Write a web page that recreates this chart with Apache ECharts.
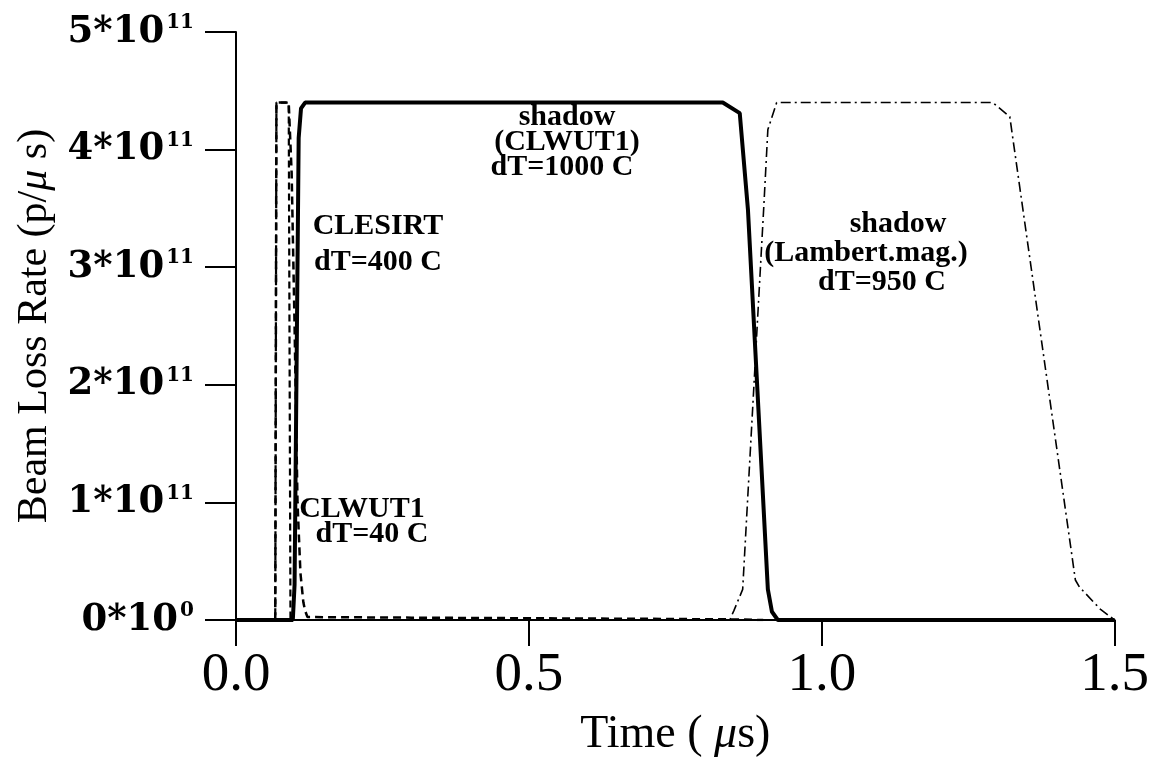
<!DOCTYPE html>
<html><head><meta charset="utf-8">
<script src="https://cdn.jsdelivr.net/npm/echarts@6/dist/echarts.min.js"></script>
<style>html,body{margin:0;padding:0;background:#fff}#c{width:1152px;height:763px}</style>
</head><body><div id="c"></div>
<script>
// time in microseconds, beam loss rate in units of 10^11 p/us
const xTickValues = [0.0, 0.5, 1.0, 1.5];
const yTickValues = [0, 1, 2, 3, 4, 5];

// shadow (CLWUT1) dT=1000 C  -- thick solid
const tShadowCLWUT1 = [0, 0.097, 0.100, 0.107, 0.111, 0.118, 0.831, 0.860, 0.874, 0.908, 0.915, 0.925, 1.5];
const rShadowCLWUT1 = [0, 0, 0.3, 4.1, 4.35, 4.4, 4.4, 4.31, 3.49, 0.26, 0.07, 0, 0];

// shadow (Lambert.mag.) dT=950 C -- dash-dot
const tShadowLambert = [0, 0.843, 0.850, 0.865, 0.901, 0.908, 0.923, 1.292, 1.321, 1.433, 1.440, 1.476, 1.5];
const rShadowLambert = [0, 0, 0.08, 0.26, 3.51, 4.17, 4.4, 4.4, 4.28, 0.34, 0.28, 0.09, 0];

// CLWUT1 dT=40 C -- dashed narrow spike
const tCLWUT1 = [0, 0.067, 0.069, 0.090, 0.093, 0.2];
const rCLWUT1 = [0, 0, 4.4, 4.4, 0, 0];

// CLESIRT dT=400 C -- dashed, slower fall with small tail
const tCLESIRT = [0, 0.067, 0.069, 0.090, 0.095, 0.100, 0.105, 0.110, 0.115, 0.118, 0.122, 0.300, 0.500, 0.700, 0.850, 0.900];
const rCLESIRT = [0, 0, 4.4, 4.4, 3.8, 2.5, 1.0, 0.4, 0.15, 0.08, 0.025, 0.02, 0.015, 0.01, 0.005, 0];

const zip = (a, b) => a.map((v, i) => [v, b[i]]);

const chart = echarts.init(document.getElementById('c'), null, {renderer: 'canvas'});
const serif = '"Liberation Serif", "Times New Roman", serif';
const wideSerif = '"DejaVu Serif", serif';
const annFont = 'bold 30px "Liberation Serif"';

function ann(text, x, y) {
  return {type: 'text', x: x, y: y, style: {text: text, font: annFont, fill: '#000', align: 'center', verticalAlign: 'middle'}};
}

chart.setOption({
  animation: false,
  backgroundColor: '#fff',
  grid: {left: 236, right: 37, top: 32, bottom: 143, containLabel: false},
  xAxis: {
    type: 'value', min: 0, max: 1.5, interval: 0.5,
    axisLine: {show: true, onZero: false, lineStyle: {color: '#000', width: 2}},
    axisTick: {show: true, length: 26, lineStyle: {color: '#000', width: 2}},
    splitLine: {show: false},
    axisLabel: {margin: 28, color: '#000', fontSize: 55, fontFamily: serif,
      formatter: v => v.toFixed(1)},
    name: '{n|Time ( }{i|μ}{n|s)}',
    nameLocation: 'middle', nameGap: 92,
    nameTextStyle: {rich: {
      n: {fontSize: 46, fontFamily: serif, color: '#000'},
      i: {fontSize: 46, fontFamily: serif, fontStyle: 'italic', color: '#000'}
    }}
  },
  yAxis: {
    type: 'value', min: 0, max: 5, interval: 1,
    axisLine: {show: true, lineStyle: {color: '#000', width: 2}},
    axisTick: {show: true, length: 31, lineStyle: {color: '#000', width: 2}},
    splitLine: {show: false},
    axisLabel: {margin: 42, color: '#000',
      formatter: v => '{b|' + v + '*10}{s|' + (v === 0 ? '0' : '11') + '}',
      rich: {
        b: {fontSize: 37, fontFamily: wideSerif, fontWeight: 'bold', color: '#000'},
        s: {fontSize: 20, fontFamily: wideSerif, fontWeight: 'bold', color: '#000', padding: [0, 0, 18, 2]}
      }},
    name: '{n|Beam Loss Rate (p/}{i|μ}{n| s)}',
    nameLocation: 'middle', nameGap: 180, nameRotate: 90,
    nameTextStyle: {rich: {
      n: {fontSize: 42, fontFamily: serif, color: '#000'},
      i: {fontSize: 42, fontFamily: serif, fontStyle: 'italic', color: '#000'}
    }}
  },
  series: [
    {name: 'shadow (Lambert.mag.)', type: 'line', showSymbol: false, data: zip(tShadowLambert, rShadowLambert),
      lineStyle: {color: '#000', width: 1.6, type: [10, 4, 2, 4]}, z: 2},
    {name: 'CLESIRT', type: 'line', showSymbol: false, data: zip(tCLESIRT, rCLESIRT),
      lineStyle: {color: '#000', width: 2.5, type: [8, 5]}, z: 3},
    {name: 'CLWUT1', type: 'line', showSymbol: false, data: zip(tCLWUT1, rCLWUT1),
      lineStyle: {color: '#000', width: 2.2, type: [7, 4]}, z: 3},
    {name: 'shadow (CLWUT1)', type: 'line', showSymbol: false, data: zip(tShadowCLWUT1, rShadowCLWUT1),
      lineStyle: {color: '#000', width: 4, type: 'solid'}, z: 4}
  ],
  graphic: [
    ann('shadow', 567, 117), ann('(CLWUT1)', 567, 142), ann('dT=1000 C', 562, 167),
    ann('CLESIRT', 378, 226), ann('dT=400 C', 378, 262),
    ann('CLWUT1', 362, 509), ann('dT=40 C', 372, 534),
    ann('shadow', 898, 224), ann('(Lambert.mag.)', 866, 253), ann('dT=950 C', 882, 282)
  ]
});
</script></body></html>
